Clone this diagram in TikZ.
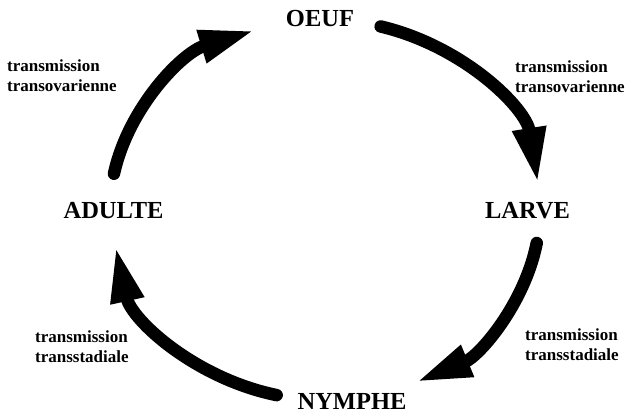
\documentclass[tikz,border=0pt]{standalone}
\usepackage{fontspec}
\setmainfont{Liberation Serif}
\usetikzlibrary{arrows.meta}
\begin{document}
\begin{tikzpicture}[x=1pt,y=1pt,
  stage/.style={font=\fontsize{24.5}{28}\selectfont\bfseries, inner sep=0pt},
  lbl/.style={font=\fontsize{17}{20}\selectfont\bfseries, inner sep=0pt, align=left, anchor=north west},
  cyc/.style={line width=12.5pt, line cap=round, -{Triangle[length=56pt,width=31pt]}}]
\useasboundingbox (0,0) rectangle (628,414);
\coordinate (c) at (325,204);
% stages
\node[stage] (oeuf) at (320,395.5) {OEUF};
\node[stage] (larve) at (527.5,203) {LARVE};
\node[stage] (nymphe) at (352,13) {NYMPHE};
\node[stage] (adulte) at (113.5,203) {ADULTE};
% arc end points
\coordinate (a1) at ([shift={(169:215pt and 190pt)}]c);
\coordinate (a2) at ([shift={(75:215pt and 190pt)}]c);
\coordinate (a3) at ([shift={(-10:215pt and 190pt)}]c);
\coordinate (a4) at ([shift={(-103:215pt and 190pt)}]c);
% arrows
\draw[cyc] (a1) arc[start angle=169, end angle=109, x radius=215pt, y radius=190pt];
\draw[cyc] (a2) arc[start angle=75, end angle=8, x radius=215pt, y radius=190pt];
\draw[cyc] (a3) arc[start angle=-10, end angle=-65, x radius=215pt, y radius=190pt];
\draw[cyc] (a4) arc[start angle=-103, end angle=-169, x radius=213pt, y radius=190pt];
% labels
\node[lbl] (l1) at (7,354) {transmission\\transovarienne};
\node[lbl] (l2) at (515,353) {transmission\\transovarienne};
\node[lbl] (l3) at (35,83.5) {transmission\\transstadiale};
\node[lbl] (l4) at (525,85) {transmission\\transstadiale};
\end{tikzpicture}
\end{document}
